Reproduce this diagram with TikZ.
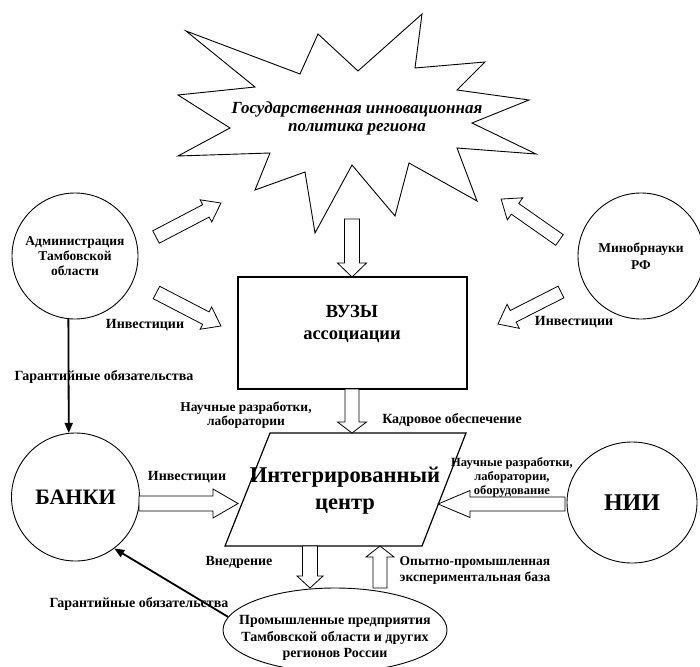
\documentclass[tikz,border=0pt]{standalone}
\usepackage{fontspec}
\setmainfont{Liberation Serif}
\usetikzlibrary{arrows.meta,calc,shapes.geometric}
\tikzset{
  krug/.style={circle,draw,line width=0.9pt,inner sep=0pt,align=center},
  oval/.style={ellipse,draw,line width=0.9pt,inner sep=0pt,align=center},
  blok/.style={draw,line width=1.2pt,inner sep=0pt},
  blokstr/.style={draw,fill=white,line width=0.8pt,line join=miter},
  tonk/.style={-{Triangle[length=10pt,width=8pt]},line width=1.8pt},
  podp/.style={font=\bfseries\fontsize{14}{15}\selectfont,align=center,inner sep=0pt},
}
% hollow block arrow: from, to, shaft half-width, head half-width, head length
\newcommand{\polstr}[5]{%
  \draw[blokstr] let \p1=($(#2)-(#1)$), \n1={atan2(\y1,\x1)}, \n2={veclen(\x1,\y1)} in
    [shift={(#1)},rotate=\n1]
    (0,-#3) -- (\n2-#5,-#3) -- (\n2-#5,-#4) -- (\n2,0) -- (\n2-#5,#4) -- (\n2-#5,#3) -- (0,#3) -- cycle;
}

\begin{document}
\begin{tikzpicture}[x=1pt,y=-1pt]
  \useasboundingbox (0,0) rectangle (700,666);

  % zvezda
  \draw[line width=0.9pt,line join=miter] (186,31) -- (300,74) -- (318,34) -- (358,71) -- (422,14)
    -- (415,68) -- (485,62) -- (457,90) -- (529,100) -- (472,123) -- (536,154)
    -- (457,148) -- (477,201) -- (409,163) -- (395,216) -- (352,165) -- (315,233)
    -- (305,172) -- (255,190) -- (270,153) -- (178,156) -- (230,128) -- (178,95)
    -- (255,87) -- cycle;
  \node[font=\bfseries\itshape\fontsize{17}{18}\selectfont,align=center] (politika) at (357,118)
    {Государственная инновационная\\политика региона};

  % krugi
  \node[krug,minimum size=126pt,font=\bfseries\fontsize{13.5}{15}\selectfont] (admin) at (75,256)
    {Администрация\\Тамбовской\\области};
  \node[krug,minimum size=126pt,font=\bfseries\fontsize{13.5}{16.5}\selectfont] (minobr) at (641,256)
    {Минобрнауки\\РФ};
  \node[krug,minimum size=128pt,font=\bfseries\fontsize{22}{25}\selectfont] (banki) at (75.5,497) {БАНКИ};
  \node[oval,minimum width=130pt,minimum height=121pt,font=\bfseries\fontsize{24}{25}\selectfont] (nii) at (632,502.5) {НИИ};

  % vuzy
  \node[blok,minimum width=229pt,minimum height=112pt] (vuz) at (352.5,333) {};
  \node[font=\bfseries\fontsize{18.5}{22}\selectfont,align=center] (vuztxt) at (352,324) {ВУЗЫ\\ассоциации};

  % centr
  \coordinate (c1) at (270,433);
  \coordinate (c2) at (466,433);
  \coordinate (c3) at (422,546);
  \coordinate (c4) at (225,546);
  \draw[line width=1.2pt,line join=miter] (c1) -- (c2) -- (c3) -- (c4) -- cycle;
  \node[font=\bfseries\fontsize{22.5}{27}\selectfont,align=center] (centr) at (345,491) {Интегрированный\\центр};

  % predpriyatiya
  \node[oval,minimum width=224pt,minimum height=84pt] (prom) at (335,630) {};
  \node[font=\bfseries\fontsize{14}{16.5}\selectfont,align=center] (promtxt) at (335,638)
    {Промышленные предприятия\\Тамбовской области и других\\регионов России};

  % tochki strelok
  \coordinate (s1) at (156,237);   \coordinate (e1) at (221,203);
  \coordinate (s2) at (156.5,292.5); \coordinate (e2) at (221,326);
  \coordinate (s3) at (559.5,240); \coordinate (e3) at (501,199);
  \coordinate (s4) at (561,292);   \coordinate (e4) at (498,324);
  \coordinate (s5) at (352,219);   \coordinate (e5) at (352,277);
  \coordinate (s6) at (352,389);   \coordinate (e6) at (352,433);
  \coordinate (s7) at (139,503.5); \coordinate (e7) at (238,503.5);
  \coordinate (s8) at (565,504);   \coordinate (e8) at (438,504);
  \coordinate (s9) at (310,546);   \coordinate (e9) at (310,588);
  \coordinate (s10) at (380,588);  \coordinate (e10) at (380,546);

  \polstr{s1}{e1}{7}{12.5}{17}
  \polstr{s2}{e2}{7}{12.5}{17}
  \polstr{s3}{e3}{6.5}{13.5}{17}
  \polstr{s4}{e4}{6.5}{13.5}{17}
  \polstr{s5}{e5}{7.5}{14.5}{14}
  \polstr{s6}{e6}{7}{14.5}{11}
  \polstr{s7}{e7}{7.5}{14.5}{25}
  \polstr{s8}{e8}{7}{13.5}{32}
  \polstr{s9}{e9}{7.5}{13}{12}
  \polstr{s10}{e10}{7}{14}{11}

  % podpisi
  \node[podp] (inv1) at (145,325) {Инвестиции};
  \node[podp] (gar1) at (104,377) {Гарантийные обязательства};
  \node[podp,font=\bfseries\fontsize{13.5}{13.5}\selectfont] (nauch1) at (246,415) {Научные разработки,\\лаборатории};
  \node[podp] (kadr) at (452,420) {Кадровое обеспечение};
  \node[podp] (inv2) at (574,322) {Инвестиции};
  \node[podp] (inv3) at (187,477) {Инвестиции};
  \node[podp,font=\bfseries\fontsize{12.5}{14}\selectfont] (nauch2) at (512,477) {Научные разработки,\\лаборатории,\\оборудование};
  \node[podp] (vnedr) at (239,562) {Внедрение};
  \node[podp,font=\bfseries\fontsize{13.5}{16}\selectfont] (opyt) at (475,570) {Опытно-промышленная\\экспериментальная база};
  \node[podp] (gar2) at (139,604) {Гарантийные обязательства};

  % tonkie strelki
  \draw[tonk] (admin.264) -- (banki.96);
  \draw[tonk] (prom.173) -- (banki.-53);
\end{tikzpicture}
\end{document}
